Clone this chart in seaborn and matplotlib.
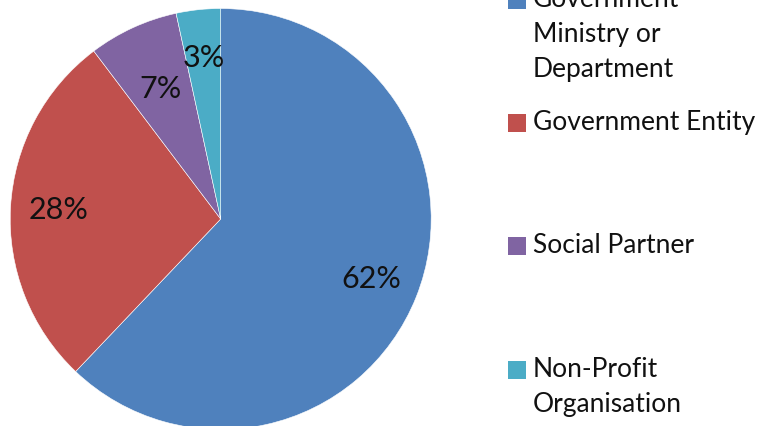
import matplotlib
matplotlib.use("Agg")
import matplotlib.pyplot as plt
from matplotlib.patches import Rectangle
import seaborn as sns

# --- data (shares) ---
categories = ["Government Ministry or Department", "Government Entity",
              "Social Partner", "Non-Profit Organisation"]
legend_lines = [["Government", "Ministry or", "Department"],
                ["Government Entity"],
                ["Social Partner"],
                ["Non-Profit", "Organisation"]]
shares = [62.1, 27.6, 6.9, 3.4]
colors = ["#4F81BD", "#C0504D", "#8064A2", "#4BACC6"]

sns.set_theme(style="white")
plt.rcParams['font.family'] = ['Lato', 'DejaVu Sans']
plt.rcParams['text.color'] = '#000000'

W, H = 761, 426
fig = plt.figure(figsize=(W / 100, H / 100), dpi=100)

# pie axes: centre (221, 219) px, radius 210.5 px
cx, cy, r = 220.7, 219.0, 210.5
ax = fig.add_axes([(cx - r) / W, (H - cy - r) / H, 2 * r / W, 2 * r / H])
wedges, texts, autotexts = ax.pie(
    shares,
    colors=sns.color_palette(colors),
    startangle=90,
    counterclock=False,
    autopct=lambda p: f"{p:.0f}%",
    pctdistance=0.77,
    radius=1.0,
    wedgeprops=dict(edgecolor="white", linewidth=0.4),
    textprops=dict(fontsize=22, color="#111111"),
)
# Excel-style placement: small purple label sits further in
x7, y7 = autotexts[2].get_position()
autotexts[2].set_position((x7 * 0.68 / 0.77, y7 * 0.68 / 0.77))
ax.set_xlim(-1, 1)
ax.set_ylim(-1, 1)
ax.set_aspect("equal")
ax.axis("off")

# legend drawn Excel-style: square aligned with the first line of each entry
def fx(px):
    return px / W

def fy(py):
    return 1 - py / H

first_baselines = [7, 130, 253, 376.7]
line_step = 35
sq = 18
for lines, base, col in zip(legend_lines, first_baselines, colors):
    fig.patches.append(Rectangle((fx(508), fy(base - 7 + sq / 2)), sq / W, sq / H,
                                 transform=fig.transFigure, facecolor=col,
                                 edgecolor="none"))
    for i, line in enumerate(lines):
        fig.text(fx(533), fy(base + i * line_step), line, fontsize=19,
                 ha="left", va="baseline", color="#111111")

fig.savefig("out.png", dpi=100)
